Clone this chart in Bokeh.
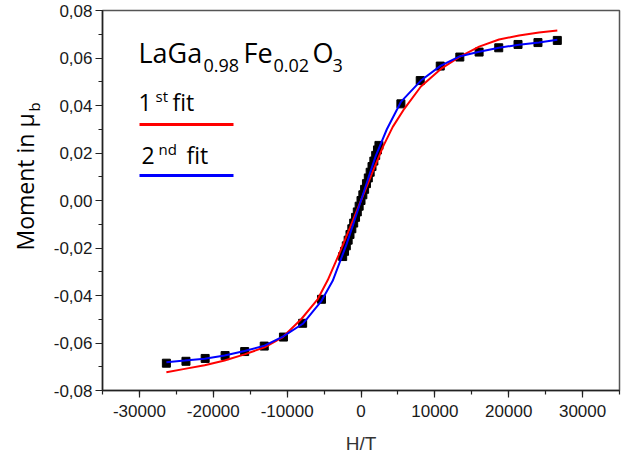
import math
from bokeh.plotting import figure
from bokeh.layouts import row
from bokeh.models import (Range1d, SingleIntervalTicker, CustomJSTickFormatter,
                          Label, BoxAnnotation)
from bokeh.embed import file_html
from bokeh.resources import INLINE

# ---- data ----
h_data = [-26350, -23700, -21100, -18400, -15750, -13100, -10500, -7900, -5350,
          -2480, -2230, -1990, -1740, -1490, -1240, -990, -740, -500, -250, 0,
          250, 490, 740, 990, 1240, 1490, 1740, 1990, 2230, 2430,
          5400, 8020, 10730, 13380, 15990, 18650, 21260, 23960, 26580]
m_data = [-0.0685, -0.0677, -0.0665, -0.0653, -0.0636, -0.0613, -0.0575, -0.0517, -0.0416,
          -0.0236, -0.0214, -0.0191, -0.0167, -0.0143, -0.0119, -0.0095, -0.0071, -0.0048, -0.0024, 0.0,
          0.0024, 0.0047, 0.0071, 0.0095, 0.0119, 0.0143, 0.0166, 0.0190, 0.0213, 0.0232,
          0.0407, 0.0505, 0.0566, 0.0604, 0.0625, 0.0643, 0.0657, 0.0665, 0.0674]

h_fit1 = [-26350, -23870, -21170, -18470, -15770, -13060, -10580, -8100, -5850, -4500,
          -3000, -1500, 0, 1500, 3000, 4300, 5860, 8110, 10810, 13290, 16000, 18690,
          21400, 24100, 26580]
m_fit1 = [-0.0723, -0.0709, -0.0694, -0.0674, -0.0648, -0.0618, -0.0575, -0.0500, -0.0415, -0.0335,
          -0.0228, -0.0115, 0.0, 0.0115, 0.0228, 0.0310, 0.0386, 0.0480, 0.0554, 0.0604, 0.0648, 0.0678,
          0.0695, 0.0707, 0.0716]

h_fit2 = [-26350, -23870, -21170, -18470, -15770, -13060, -10580, -7880, -5400, -3830,
          -2000, -1000, 0, 1000, 2000, 3500, 5400, 8110, 10810, 13290, 16000, 18690,
          21400, 24100, 26580]
m_fit2 = [-0.0681, -0.0674, -0.0666, -0.0653, -0.0634, -0.0611, -0.0573, -0.0519, -0.0425, -0.0338,
          -0.0188, -0.0095, 0.0, 0.0095, 0.0188, 0.0300, 0.0415, 0.0505, 0.0568, 0.0606, 0.0626, 0.0643,
          0.0656, 0.0665, 0.0677]

x_range = (-35000, 35000)
y_range = (-0.08, 0.08)

FONT = "Open Sans"

# ---- narrow strip on the left holding the rotated y-axis title ----
lf = figure(width=50, height=454, output_backend="svg", toolbar_location=None,
            x_range=Range1d(0, 1), y_range=Range1d(0, 1),
            x_axis_location=None, y_axis_location=None, min_border=0)
lf.grid.visible = False
lf.outline_line_color = None
lf.background_fill_color = "white"
lf.border_fill_color = "white"


def lab(fig, text, sx, sy, size, angle=0.0):
    fig.add_layout(Label(x=sx, y=sy, x_units="screen", y_units="screen", text=text,
                         text_font=FONT, text_font_size=f"{size}px", text_color="black",
                         text_baseline="alphabetic", text_align="left", angle=angle))


lab(lf, "Moment in \u03bc", 24, 138, 23, math.pi / 2)
lab(lf, "b", 33.5, 277, 15, math.pi / 2)

# ---- main chart ----
p = figure(frame_width=517, frame_height=380, output_backend="svg", toolbar_location=None,
           x_range=Range1d(*x_range), y_range=Range1d(*y_range),
           min_border_left=52, min_border_right=9, min_border_top=10, min_border_bottom=10)
p.background_fill_color = "white"
p.border_fill_color = "white"
p.grid.visible = False
p.outline_line_color = "#555555"
p.outline_line_width = 1.5

p.xaxis.ticker = SingleIntervalTicker(interval=10000, num_minor_ticks=2)
p.yaxis.ticker = SingleIntervalTicker(interval=0.02, num_minor_ticks=2)
p.xaxis.formatter = CustomJSTickFormatter(code="return tick.toFixed(0);")
p.yaxis.formatter = CustomJSTickFormatter(code="""
var v = Math.abs(tick) < 1e-9 ? 0 : tick;
return v.toFixed(2).replace('.', ',');
""")
for ax in (p.xaxis[0], p.yaxis[0]):
    ax.axis_line_color = "#222222"
    ax.axis_line_width = 1.5
    ax.major_tick_line_color = "#222222"
    ax.minor_tick_line_color = "#222222"
    ax.major_tick_line_width = 1.2
    ax.minor_tick_line_width = 1.2
    ax.major_tick_in = 0
    ax.major_tick_out = 7
    ax.minor_tick_in = 0
    ax.minor_tick_out = 4
    ax.major_label_text_font = "Liberation Sans"
    ax.major_label_text_font_size = "17px"
    ax.major_label_text_color = "#1a1a1a"
p.yaxis.major_label_standoff = 3
p.xaxis.major_label_standoff = 7

p.xaxis.axis_label = "H/T"
p.xaxis.axis_label_text_font = "Liberation Sans"
p.xaxis.axis_label_text_font_style = "normal"
p.xaxis.axis_label_text_font_size = "19px"
p.xaxis.axis_label_text_color = "#333333"
p.xaxis.axis_label_standoff = 13

p.scatter(h_data, m_data, marker="square", size=8, color="black")
p.line(h_fit1, m_fit1, line_color="#ff0000", line_width=2)
p.line(h_fit2, m_fit2, line_color="#0000ff", line_width=2)

# compound formula
lab(p, "LaGa", 36, 338.5, 27)
lab(p, "0.98", 101, 325, 18)
lab(p, "Fe", 141, 338.5, 27)
lab(p, "0.02", 171, 325, 18)
lab(p, "O", 210, 338.5, 27)
lab(p, "3", 230, 325, 18)

# fit labels
lab(p, "1", 36, 288.5, 23)
lab(p, "st", 53, 294.5, 15)
lab(p, "fit", 70, 288.5, 23)
lab(p, "2", 39, 235.5, 23)
lab(p, "nd", 56, 241.5, 15)
lab(p, "fit", 84, 235.5, 23)

p.add_layout(BoxAnnotation(left=37, right=131, bottom=264.5, top=267.5,
                           left_units="screen", right_units="screen",
                           bottom_units="screen", top_units="screen",
                           fill_color="#ff0000", fill_alpha=1.0, line_color=None))
p.add_layout(BoxAnnotation(left=37, right=131, bottom=213.5, top=216.5,
                           left_units="screen", right_units="screen",
                           bottom_units="screen", top_units="screen",
                           fill_color="#0000ff", fill_alpha=1.0, line_color=None))

layout = row(lf, p, spacing=0)
open("out.html", "w").write(file_html(layout, INLINE))
